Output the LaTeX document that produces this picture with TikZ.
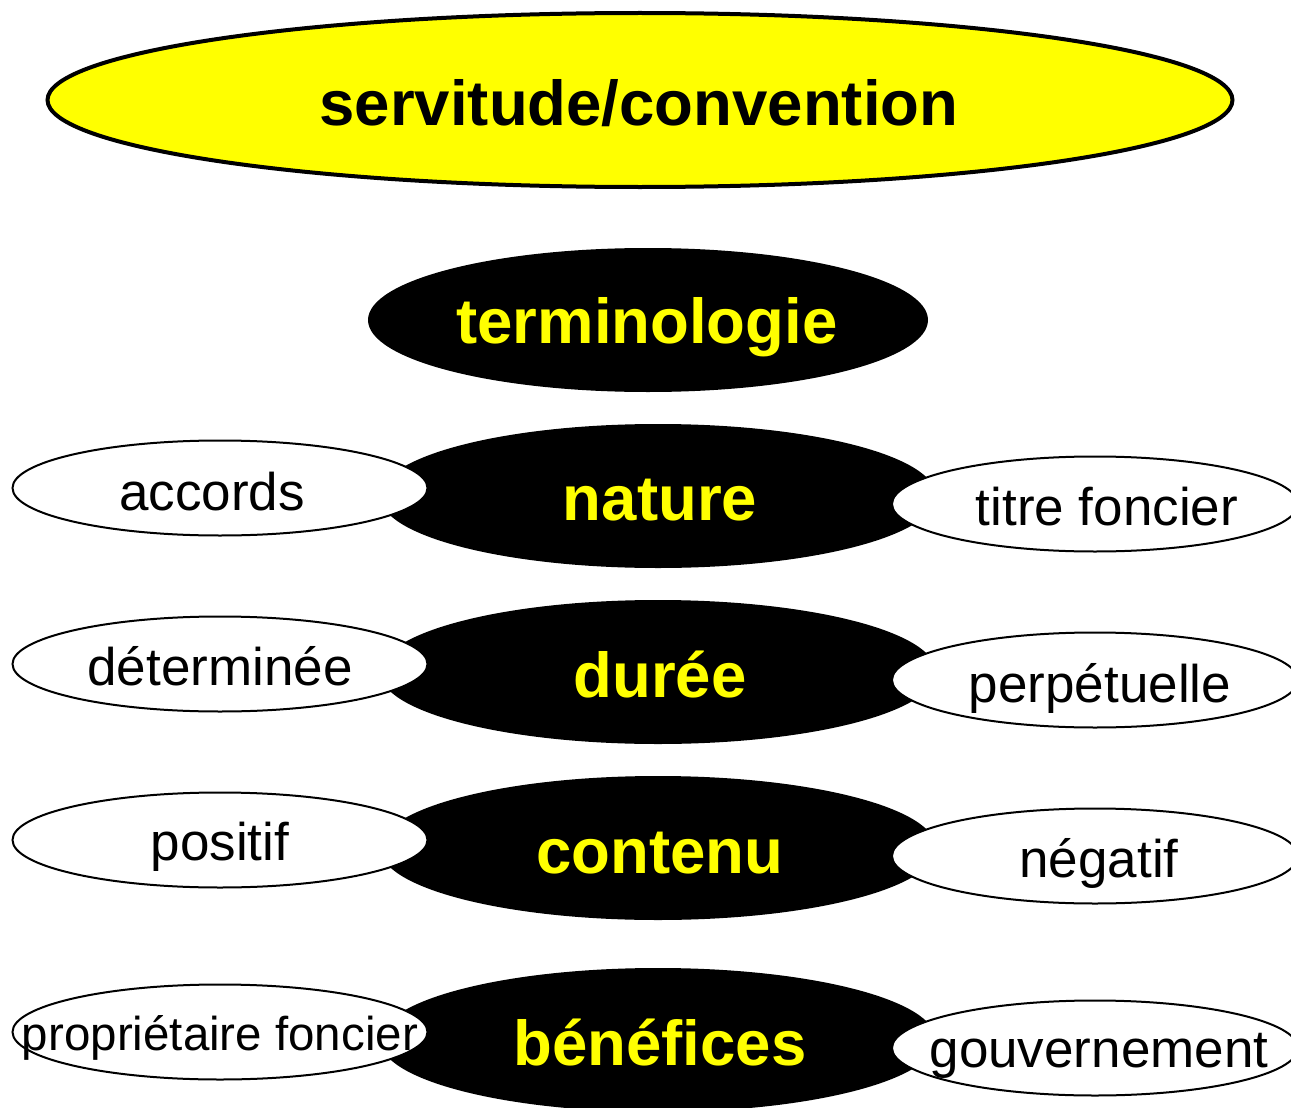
\documentclass[tikz,border=0pt]{standalone}
\usepackage{fontspec}
\setmainfont{Liberation Sans}
\usetikzlibrary{shapes.geometric}
\definecolor{pureyellow}{RGB}{255,255,0}
\begin{document}
\begin{tikzpicture}[x=1pt,y=-1pt,
  topell/.style={ellipse,draw=black,line width=4pt,fill=pureyellow,minimum width=1185pt,minimum height=174pt,inner sep=0pt},
  blackell/.style={ellipse,fill=black,minimum width=556pt,minimum height=144pt,inner sep=0pt},
  whiteell/.style={ellipse,draw=black,line width=2pt,fill=white,minimum width=415pt,minimum height=95pt,inner sep=0pt},
  boldtxt/.style={anchor=base,inner sep=0pt,font=\fontsize{63.5}{70}\selectfont\bfseries},
  plaintxt/.style={anchor=base,inner sep=0pt,font=\fontsize{53}{60}\selectfont},
  smalltxt/.style={anchor=base,inner sep=0pt,font=\fontsize{47.5}{52}\selectfont}]
\useasboundingbox (0,0) rectangle (1291,1108);
\begin{scope}
\clip (0,0) rectangle (1291,1108);
% top
\node[topell] (top) at (640,100) {};
\node[boldtxt,text=black] (topt) at (639,125) {servitude/convention};
% black ellipses
\node[blackell,minimum width=560pt] (term) at (648,320) {};
\node[blackell] (nat) at (658,496) {};
\node[blackell] (dur) at (658,672) {};
\node[blackell] (con) at (658,848) {};
\node[blackell] (ben) at (658,1040) {};
\node[boldtxt,text=pureyellow] (termt) at (647,343) {terminologie};
\node[boldtxt,text=pureyellow] (natt) at (660,520) {nature};
\node[boldtxt,text=pureyellow] (durt) at (660,697) {durée};
\node[boldtxt,text=pureyellow] (cont) at (660,873) {contenu};
\node[boldtxt,text=pureyellow] (bent) at (660,1065) {bénéfices};
% left white ellipses
\node[whiteell] (acc) at (220,488) {};
\node[whiteell] (det) at (220,664) {};
\node[whiteell] (pos) at (220,840) {};
\node[whiteell] (pro) at (220,1032) {};
\node[plaintxt] (acct) at (212,510) {accords};
\node[plaintxt] (dett) at (220,685) {déterminée};
\node[plaintxt] (post) at (220,860) {positif};
\node[smalltxt] (prot) at (220,1050) {propriétaire foncier};
% right white ellipses
\node[whiteell,minimum width=406pt] (tit) at (1095,504) {};
\node[whiteell,minimum width=406pt] (per) at (1095,680) {};
\node[whiteell,minimum width=406pt] (neg) at (1095,856) {};
\node[whiteell,minimum width=406pt] (gou) at (1095,1048) {};
\node[plaintxt] (titt) at (1107,525) {titre foncier};
\node[plaintxt] (pert) at (1100,702) {perpétuelle};
\node[plaintxt] (negt) at (1099,877) {négatif};
\node[plaintxt] (gout) at (1099,1067) {gouvernement};
\end{scope}
\end{tikzpicture}
\end{document}
